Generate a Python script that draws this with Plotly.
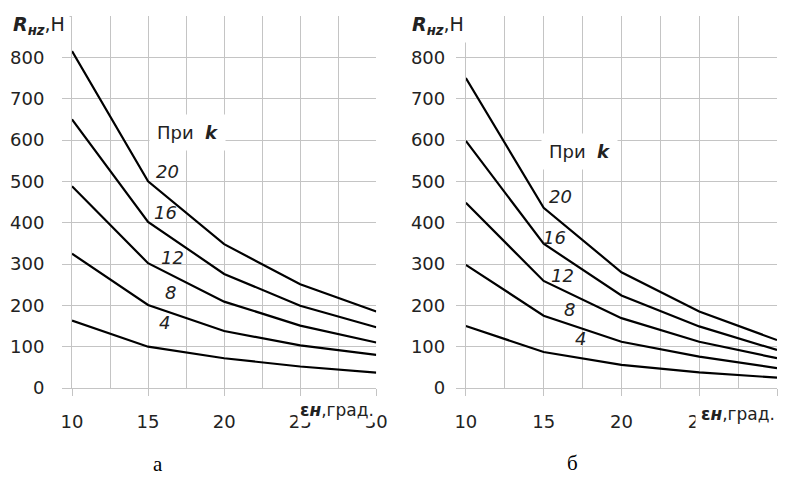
import plotly.graph_objects as go
from plotly.subplots import make_subplots

x_vals = [10, 15, 20, 25, 30]
k_labels = ["20", "16", "12", "8", "4"]

# panel а
a_k20 = [815, 500, 348, 251, 185]
a_k16 = [650, 402, 276, 199, 147]
a_k12 = [488, 302, 209, 151, 110]
a_k8 = [325, 201, 138, 103, 80]
a_k4 = [163, 100, 72, 52, 37]

# panel б
b_k20 = [750, 436, 280, 185, 116]
b_k16 = [598, 349, 224, 149, 92]
b_k12 = [448, 259, 169, 112, 72]
b_k8 = [298, 175, 112, 76, 48]
b_k4 = [150, 87, 56, 38, 25]

a_series = [a_k20, a_k16, a_k12, a_k8, a_k4]
b_series = [b_k20, b_k16, b_k12, b_k8, b_k4]

# label positions (data coords)
a_label_x = [16.3, 16.15, 16.6, 16.5, 16.1]
a_label_y = [524, 424, 315, 230, 158]
b_label_x = [16.1, 15.7, 16.2, 16.65, 17.4]
b_label_y = [463, 364, 272, 191, 119]

y_ticks = list(range(0, 1000, 100))
y_text = [str(v) if v <= 800 else "" for v in y_ticks]
x_major = [10, 15, 20, 25, 30]
x_minor = [12.5, 17.5, 22.5, 27.5]
x_text_a = ["10", "15", "20", "25", "30"]
x_text_b = ["10", "15", "20", "25", ""]

W, H = 794, 478
L, R, T, B = 72, 6, 16, 90
pw = W - L - R
ph = H - T - B

fig = make_subplots(rows=1, cols=2)

for col, series in ((1, a_series), (2, b_series)):
    for s, k in zip(series, k_labels):
        fig.add_trace(go.Scatter(x=x_vals, y=s, mode="lines", name="k=" + k,
                                 line=dict(color="black", width=2.2),
                                 showlegend=False, hoverinfo="skip"), row=1, col=col)

font_family = "DejaVu Sans, sans-serif"
txt_color = "#222222"
tick_font = dict(family=font_family, size=18, color=txt_color)
grid = "#c4c4c4"

fig.update_xaxes(range=[10, 30], tickvals=x_major,
                 showgrid=True, gridcolor=grid, gridwidth=1, showline=True, linecolor=grid,
                 linewidth=1, zeroline=False, ticks="outside", ticklen=7, tickcolor=grid,
                 tickwidth=1, tickfont=tick_font, ticklabelstandoff=10,
                 minor=dict(tickvals=x_minor, showgrid=True, gridcolor=grid, gridwidth=1, ticks=""))
fig.update_yaxes(range=[0, 900], tickvals=y_ticks, ticktext=y_text, showgrid=True,
                 gridcolor=grid, gridwidth=1, showline=True, linecolor=grid, linewidth=1,
                 zeroline=False, ticks="outside", ticklen=9, tickcolor=grid, tickwidth=1,
                 tickfont=tick_font)

dom_a = [0, (381 - L) / pw]
dom_b = [(472 - L) / pw, 1.0]
fig.update_layout(
    width=W, height=H,
    margin=dict(l=L, r=R, t=T, b=B),
    paper_bgcolor="white", plot_bgcolor="white",
    xaxis=dict(domain=dom_a, ticktext=x_text_a),
    xaxis2=dict(domain=dom_b, ticktext=x_text_b),
    yaxis=dict(ticklabelstandoff=14),
    yaxis2=dict(ticklabelstandoff=7),
)

ann = []
for xref, yref, lx, ly in (("x", "y", a_label_x, a_label_y), ("x2", "y2", b_label_x, b_label_y)):
    for t, xx, yy in zip(k_labels, lx, ly):
        ann.append(dict(x=xx, y=yy, xref=xref, yref=yref, text="<i>" + t + "</i>",
                        xanchor="center", yanchor="middle",
                        showarrow=False, font=dict(family=font_family, size=18, color=txt_color)))

def px_x(p):
    return (p - L) / pw

def px_y(p):
    return (H - B - p) / ph

# "При k" labels
for xx, yy, xr, yr in ((17.6, 618, "x", "y"), (17.28, 572, "x2", "y2")):
    ann.append(dict(x=xx, y=yy, xref=xr, yref=yr, text="При  <b><i>k</i></b>", showarrow=False,
                    xanchor="center", yanchor="middle",
                    bgcolor="white", borderpad=7, font=dict(family=font_family, size=18, color=txt_color)))

ylab = "<b><i>R</i></b><sub><b><i>нz</i></b></sub>,Н"
xlab = "<b>ε</b><b><i>н</i></b>,град."
for cx, cy in ((38, 26), (444, 26)):
    ann.append(dict(x=px_x(cx), y=px_y(cy), xref="paper", yref="paper", text=ylab,
                    xanchor="center", yanchor="middle",
                    showarrow=False, bgcolor="white", borderpad=4,
                    font=dict(family=font_family, size=19, color=txt_color)))
for cx, cy, pad in ((341, 410, 2), (748, 414, 5)):
    ann.append(dict(x=px_x(cx), y=px_y(cy), xref="paper", yref="paper", text=xlab,
                    xanchor="center", yanchor="middle",
                    showarrow=False, bgcolor="white", borderpad=pad,
                    font=dict(family=font_family, size=17, color=txt_color)))

for t, cx, cy in (("а", 159, 464), ("б", 580, 463)):
    ann.append(dict(x=px_x(cx), y=px_y(cy), xref="paper", yref="paper", text=t,
                    xanchor="center", yanchor="middle",
                    showarrow=False, font=dict(family="Liberation Serif, serif", size=21, color="black")))

fig.update_layout(annotations=ann)
fig.write_html("out.html")
